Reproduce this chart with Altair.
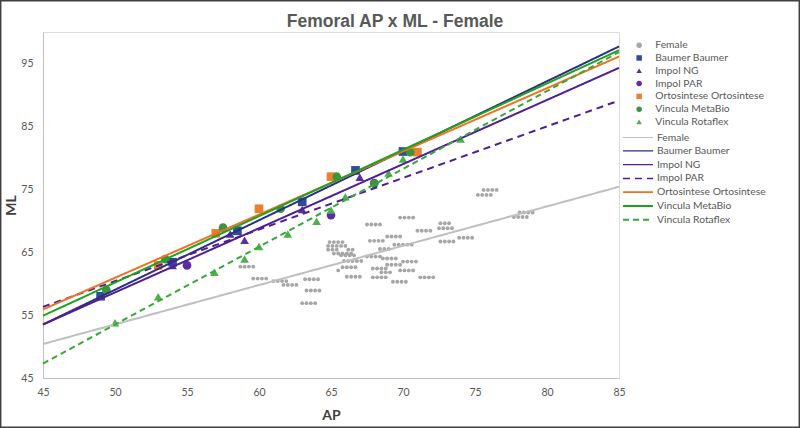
import altair as alt
import pandas as pd

# ---------------- data ----------------
series = ["Female", "Baumer Baumer", "Impol NG", "Impol PAR",
          "Ortosintese Ortosintese", "Vincula MetaBio", "Vincula Rotaflex"]
marker_colors = ["#A6A6A6", "#2F4B9A", "#5B2D9E", "#5B2D9E", "#ED7D31", "#3C943C", "#4CAF50"]
marker_shapes = ["circle", "square", "triangle-up", "circle", "square", "circle", "triangle-up"]
line_colors = ["#BFBFBF", "#2B2F86", "#4F1F95", "#4F1F95", "#F07025", "#1FA31F", "#38A838"]
line_dashes = [[1, 0], [1, 0], [1, 0], [7, 5], [1, 0], [1, 0], [6, 4]]

# Female population (grey dots), rows of dots: (ML, [AP values])
female_rows = [
    (62.7, [58.7, 59.0, 59.3, 59.6]),
    (60.8, [59.6, 59.9, 60.2, 60.5]),
    (60.4, [61.0, 61.3, 61.6, 61.9]),
    (59.8, [61.7, 62.0, 62.3, 62.6]),
    (60.7, [63.2, 63.5, 63.8, 64.1]),
    (58.9, [63.3, 63.6, 63.9, 64.2]),
    (56.9, [63.0, 63.3, 63.6, 63.9]),
    (66.6, [64.9, 65.2, 65.5, 65.8]),
    (66.0, [64.8, 65.1, 65.4, 65.7, 66.0]),
    (65.4, [64.8, 65.1, 65.4, 66.2, 66.5]),
    (64.8, [65.2, 65.5, 65.8, 66.1, 66.4]),
    (69.4, [67.5, 67.8, 68.1, 68.4]),
    (70.5, [69.8, 70.1, 70.4, 70.7]),
    (66.8, [67.7, 68.0, 68.3, 68.6]),
    (67.5, [68.9, 69.2, 69.5, 69.8]),
    (66.2, [69.4, 69.7, 70.0, 70.3, 70.6]),
    (68.4, [71.0, 71.3, 71.6, 71.9]),
    (69.6, [72.6, 72.9, 73.2]),
    (68.8, [72.5, 72.8, 73.1, 73.4]),
    (66.7, [72.6, 72.9, 73.2, 73.5]),
    (64.5, [65.7, 66.0, 66.3, 66.6]),
    (63.6, [65.9, 66.2, 66.5, 66.8, 67.1]),
    (62.6, [65.8, 66.1, 66.4, 66.7]),
    (64.3, [67.5, 67.8, 68.1, 68.4]),
    (64.0, [68.6, 68.9, 69.2, 69.5]),
    (63.0, [68.9, 69.2, 69.5, 69.8]),
    (62.1, [65.5]),
    (62.4, [67.9, 68.2, 68.5, 68.8]),
    (61.0, [67.9, 68.2, 68.5, 68.8]),
    (61.1, [66.1, 66.4, 66.7, 67.0]),
    (63.5, [70.0, 70.3, 70.6, 70.9]),
    (62.1, [69.8, 70.1, 70.4, 70.7]),
    (60.3, [69.3, 69.6, 69.9, 70.2]),
    (61.0, [71.2, 71.5, 71.8, 72.1]),
    (65.5, [68.4, 68.7, 69.0]),
    (61.8, [68.5, 68.8, 69.1]),
    (74.9, [75.6, 75.9, 76.2, 76.5]),
    (74.1, [75.2, 75.5, 75.8, 76.1]),
    (71.3, [78.1, 78.4, 78.7, 79.0]),
    (70.6, [77.7, 78.0, 78.3, 78.6]),
    (67.3, [73.9, 74.2, 74.5, 74.8]),
]

baumer_ap = [49.0, 54.0, 58.5, 63.0, 66.7, 70.0]
baumer_ml = [58.0, 63.4, 68.4, 73.0, 78.0, 81.0]
impol_ng_ap = [54.0, 58.0, 59.0, 63.0, 67.0]
impol_ng_ml = [62.9, 67.9, 66.9, 71.8, 76.9]
impol_par_ap = [55.0, 65.0, 68.0]
impol_par_ml = [62.9, 70.9, 76.0]
orto_ap = [53.0, 57.0, 60.0, 65.0, 71.0]
orto_ml = [62.9, 68.0, 71.9, 77.0, 80.9]
metabio_ap = [49.4, 53.5, 57.5, 61.5, 65.4, 68.0, 70.5]
metabio_ml = [59.0, 63.9, 68.9, 71.9, 77.0, 75.9, 80.9]
rotaflex_ap = [50.0, 53.0, 56.9, 59.0, 60.0, 62.0, 64.0, 65.0, 66.0, 69.0, 70.0, 74.0]
rotaflex_ml = [53.8, 57.9, 61.8, 63.9, 65.9, 67.9, 69.9, 71.7, 73.8, 77.6, 79.8, 83.0]

# Trend lines: ML at AP = 45 and AP = 85
trend_ap = [45, 85]
trend_ml_start = [50.4, 53.5, 53.5, 56.3, 55.9, 54.9, 47.3]
trend_ml_end = [75.4, 97.7, 94.3, 89.1, 96.1, 97.1, 96.8]

x_ticks = [45, 50, 55, 60, 65, 70, 75, 80, 85]
y_ticks = [45, 55, 65, 75, 85, 95]

# ---------------- tables ----------------
fem_records = []
for ml, aps in female_rows:
    for ap in aps:
        fem_records.append({"Series": "Female", "AP": ap, "ML": ml})
female_df = pd.DataFrame(fem_records)

dev_records = []
for name, aps, mls in [
    ("Baumer Baumer", baumer_ap, baumer_ml),
    ("Impol NG", impol_ng_ap, impol_ng_ml),
    ("Impol PAR", impol_par_ap, impol_par_ml),
    ("Ortosintese Ortosintese", orto_ap, orto_ml),
    ("Vincula MetaBio", metabio_ap, metabio_ml),
    ("Vincula Rotaflex", rotaflex_ap, rotaflex_ml),
]:
    for a, m in zip(aps, mls):
        dev_records.append({"Series": name, "AP": a, "ML": m})
dev_df = pd.DataFrame(dev_records)

line_records = []
for i, name in enumerate(series):
    line_records.append({"Trend": name, "AP": trend_ap[0], "ML": trend_ml_start[i]})
    line_records.append({"Trend": name, "AP": trend_ap[1], "ML": trend_ml_end[i]})
line_df = pd.DataFrame(line_records)

FONT = "Lato"
TXT = "#595959"

x_enc = alt.X("AP:Q", scale=alt.Scale(domain=[45, 85], nice=False, zero=False),
              axis=alt.Axis(values=x_ticks, title="AP", grid=False, ticks=False,
                            labelPadding=9, labelFontSize=10.5, labelColor=TXT, labelFont=FONT,
                            domainColor="#BFBFBF", titleFont=FONT, titleFontSize=14,
                            titleFontWeight="bold", titleColor="#404040", titlePadding=11,
                            labelFlush=False))
y_enc = alt.Y("ML:Q", scale=alt.Scale(domain=[45, 100], nice=False, zero=False),
              axis=alt.Axis(values=y_ticks, title="ML", grid=False, ticks=False,
                            labelPadding=10, labelFontSize=10.5, labelColor=TXT, labelFont=FONT,
                            domainColor="#BFBFBF", titleFont=FONT, titleFontSize=14,
                            titleFontWeight="bold", titleColor="#404040", titlePadding=2,
                            labelFlush=False))

pt_legend = alt.Legend(title=None, orient="none", legendX=591, legendY=8,
                       symbolSize=30, labelFont=FONT, labelFontSize=10.3, labelColor=TXT,
                       labelOffset=11, rowPadding=1.8, symbolStrokeWidth=0)
ln_legend = alt.Legend(title=None, orient="none", legendX=589, legendY=100,
                       symbolSize=100, symbolStrokeWidth=2, labelFont=FONT, labelFontSize=10.3,
                       labelColor=TXT, labelOffset=13, rowPadding=1.8,
                       symbolType="M-3,0H3")

pt_color = alt.Color("Series:N", scale=alt.Scale(domain=series, range=marker_colors), legend=pt_legend)
pt_shape = alt.Shape("Series:N", scale=alt.Scale(domain=series, range=marker_shapes), legend=pt_legend)

female_pts = alt.Chart(female_df).mark_point(filled=True, size=15, opacity=1).encode(
    x=x_enc, y=y_enc, color=pt_color, shape=pt_shape)
device_pts = alt.Chart(dev_df).mark_point(filled=True, size=75, opacity=1).encode(
    x=x_enc, y=y_enc, color=pt_color, shape=pt_shape)
points = alt.layer(female_pts, device_pts)

lines = alt.Chart(line_df).mark_line(strokeWidth=2).encode(
    x=x_enc, y=y_enc,
    color=alt.Color("Trend:N", scale=alt.Scale(domain=series, range=line_colors), legend=ln_legend),
    strokeDash=alt.StrokeDash("Trend:N", scale=alt.Scale(domain=series, range=line_dashes), legend=ln_legend),
    strokeWidth=alt.StrokeWidth("Trend:N", scale=alt.Scale(domain=series, range=[1, 2, 2, 2, 2, 2, 2]), legend=None),
    detail="Trend:N", order="AP:Q")

frame = alt.Chart(pd.DataFrame({"k": [0]})).mark_rect(
    fillOpacity=0, stroke="#404040", strokeWidth=1.5).encode(
    x=alt.value(-42.3), x2=alt.value(756.3), y=alt.value(-31.3), y2=alt.value(395.3))

chart = alt.layer(points, lines, frame).resolve_scale(
    color="independent", shape="independent", strokeDash="independent", strokeWidth="independent"
).properties(
    width=576, height=346,
    padding={"left": 43, "top": 32, "right": 181, "bottom": 50},
    autosize=alt.AutoSizeParams(type="none"),
    title=alt.TitleParams(text="Femoral AP x ML - Female", font="Liberation Sans", fontSize=17.5,
                          fontWeight="bold", color="#595959", anchor="middle", dx=64,
                          offset=0, dy=31),
).configure_view(strokeWidth=0).configure(background="white")

chart.save("out.html", embed_options={"renderer": "svg", "actions": False})
